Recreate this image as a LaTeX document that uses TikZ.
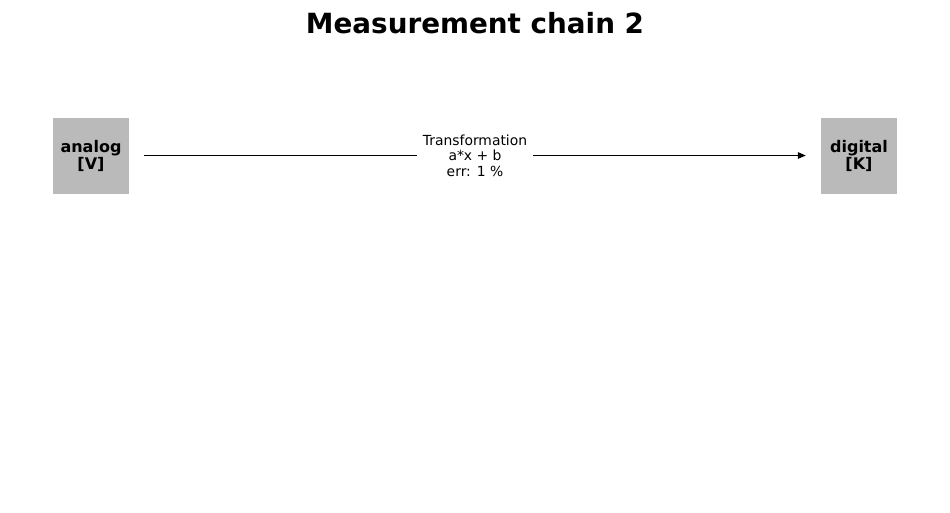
\documentclass[tikz,border=0pt]{standalone}
\usepackage{fontspec}
\setmainfont{DejaVu Sans}
\usetikzlibrary{arrows.meta}
\begin{document}
\begin{tikzpicture}[x=1pt,y=-1pt,
  blockbox/.style={fill=black!27, draw=none, minimum width=76pt, minimum height=76pt, inner sep=0pt,
    font=\fontsize{16pt}{17pt}\selectfont\bfseries, align=center},
  conn/.style={draw=black, line width=1.3pt, -{Triangle[length=8pt,width=6.5pt]}, shorten <=15pt, shorten >=15pt},
  lbl/.style={fill=white, inner xsep=6pt, inner ysep=2pt, font=\fontsize{13.9pt}{15.5pt}\selectfont, align=center}]
\useasboundingbox (0,0) rectangle (950,512);
\node[font=\fontsize{27.8pt}{30pt}\selectfont\bfseries] (title) at (475,23) {Measurement chain 2};
\node[blockbox] (analog) at (91,155.5) {analog\\{[V]}};
\node[blockbox] (digital) at (859,155.5) {digital\\{[K]}};
\draw[conn] (analog) -- (digital);
\node[lbl] (tr) at (475,155.5) {Transformation\\a*x + b\\err: 1 \%};
\end{tikzpicture}
\end{document}
